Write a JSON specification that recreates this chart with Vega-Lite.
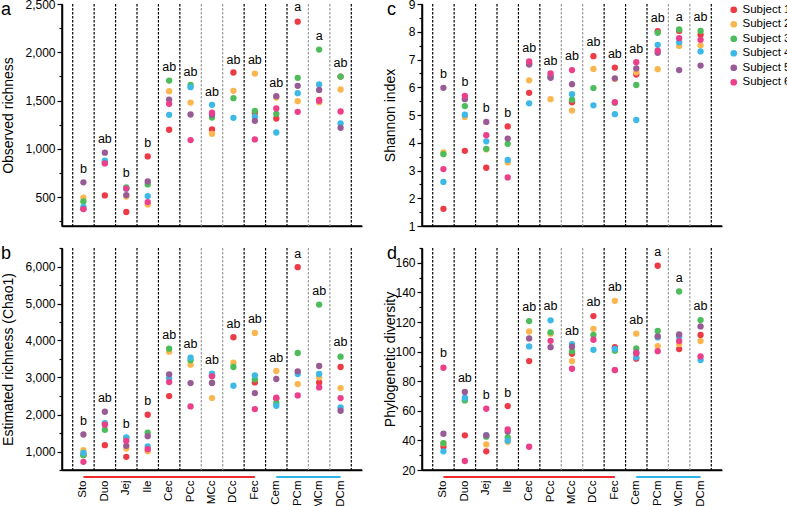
{
"$schema": "https://vega.github.io/schema/vega-lite/v6.json",
"padding": {"left": 0, "top": -3, "right": 0, "bottom": 0},
"datasets": {
"seps": [
{"site":"Sto","kind":"major"},{"site":"Duo","kind":"major"},{"site":"Jej","kind":"major"},{"site":"Ile","kind":"major"},{"site":"Cec","kind":"major"},{"site":"PCc","kind":"major"},{"site":"MCc","kind":"minor"},{"site":"DCc","kind":"minor"},{"site":"Fec","kind":"major"},{"site":"Cem","kind":"major"},{"site":"PCm","kind":"major"},{"site":"MCm","kind":"minor"},{"site":"DCm","kind":"minor"},{"site":"DCm","kind":"end"}
],
"groups": [
{"group":"colon","from":"Sto","to":"Fec"},{"group":"mucosa","from":"Cem","to":"DCm"}
],
"letters": [
{"panel":"a","site":"Sto","letter":"b","value":793},{"panel":"a","site":"Duo","letter":"ab","value":1100},{"panel":"a","site":"Jej","letter":"b","value":752},{"panel":"a","site":"Ile","letter":"b","value":1062},{"panel":"a","site":"Cec","letter":"ab","value":1845},{"panel":"a","site":"PCc","letter":"ab","value":1800},{"panel":"a","site":"MCc","letter":"ab","value":1590},{"panel":"a","site":"DCc","letter":"ab","value":1924},{"panel":"a","site":"Fec","letter":"ab","value":1920},{"panel":"a","site":"Cem","letter":"ab","value":1680},{"panel":"a","site":"PCm","letter":"a","value":2465},{"panel":"a","site":"MCm","letter":"a","value":2172},{"panel":"a","site":"DCm","letter":"ab","value":1890},
{"panel":"b","site":"Sto","letter":"b","value":1830},{"panel":"b","site":"Duo","letter":"ab","value":2444},{"panel":"b","site":"Jej","letter":"b","value":1740},{"panel":"b","site":"Ile","letter":"b","value":2354},{"panel":"b","site":"Cec","letter":"ab","value":4150},{"panel":"b","site":"PCc","letter":"ab","value":3906},{"panel":"b","site":"MCc","letter":"ab","value":3464},{"panel":"b","site":"DCc","letter":"ab","value":4448},{"panel":"b","site":"Fec","letter":"ab","value":4583},{"panel":"b","site":"Cem","letter":"ab","value":3527},{"panel":"b","site":"PCm","letter":"a","value":6325},{"panel":"b","site":"MCm","letter":"ab","value":5341},{"panel":"b","site":"DCm","letter":"ab","value":3951},
{"panel":"c","site":"Sto","letter":"b","value":6.47},{"panel":"c","site":"Duo","letter":"b","value":6.19},{"panel":"c","site":"Jej","letter":"b","value":5.25},{"panel":"c","site":"Ile","letter":"b","value":5.08},{"panel":"c","site":"Cec","letter":"ab","value":7.41},{"panel":"c","site":"PCc","letter":"ab","value":6.96},{"panel":"c","site":"MCc","letter":"ab","value":7.11},{"panel":"c","site":"DCc","letter":"ab","value":7.62},{"panel":"c","site":"Fec","letter":"ab","value":7.2},{"panel":"c","site":"Cem","letter":"ab","value":7.38},{"panel":"c","site":"PCm","letter":"ab","value":8.5},{"panel":"c","site":"MCm","letter":"a","value":8.52},{"panel":"c","site":"DCm","letter":"ab","value":8.52},
{"panel":"d","site":"Sto","letter":"b","value":98.8},{"panel":"d","site":"Duo","letter":"ab","value":81.9},{"panel":"d","site":"Jej","letter":"b","value":70.6},{"panel":"d","site":"Ile","letter":"b","value":72.2},{"panel":"d","site":"Cec","letter":"ab","value":130.3},{"panel":"d","site":"PCc","letter":"ab","value":130.7},{"panel":"d","site":"MCc","letter":"ab","value":114.1},{"panel":"d","site":"DCc","letter":"ab","value":133.2},{"panel":"d","site":"Fec","letter":"ab","value":143.8},{"panel":"d","site":"Cem","letter":"ab","value":121.3},{"panel":"d","site":"PCm","letter":"a","value":167},{"panel":"d","site":"MCm","letter":"a","value":149.4},{"panel":"d","site":"DCm","letter":"ab","value":130.7}
],
"pts": [
{"panel":"a","site":"Sto","subject":"Subject 1","value":380},{"panel":"a","site":"Sto","subject":"Subject 2","value":493},{"panel":"a","site":"Sto","subject":"Subject 3","value":455},{"panel":"a","site":"Sto","subject":"Subject 4","value":397},{"panel":"a","site":"Sto","subject":"Subject 5","value":652},{"panel":"a","site":"Sto","subject":"Subject 6","value":375},
{"panel":"a","site":"Duo","subject":"Subject 1","value":517},{"panel":"a","site":"Duo","subject":"Subject 2","value":860},{"panel":"a","site":"Duo","subject":"Subject 3","value":860},{"panel":"a","site":"Duo","subject":"Subject 4","value":877},{"panel":"a","site":"Duo","subject":"Subject 5","value":960},{"panel":"a","site":"Duo","subject":"Subject 6","value":848},
{"panel":"a","site":"Jej","subject":"Subject 1","value":345},{"panel":"a","site":"Jej","subject":"Subject 2","value":505},{"panel":"a","site":"Jej","subject":"Subject 3","value":600},{"panel":"a","site":"Jej","subject":"Subject 4","value":585},{"panel":"a","site":"Jej","subject":"Subject 5","value":520},{"panel":"a","site":"Jej","subject":"Subject 6","value":588},
{"panel":"a","site":"Ile","subject":"Subject 1","value":921},{"panel":"a","site":"Ile","subject":"Subject 2","value":424},{"panel":"a","site":"Ile","subject":"Subject 3","value":631},{"panel":"a","site":"Ile","subject":"Subject 4","value":510},{"panel":"a","site":"Ile","subject":"Subject 5","value":662},{"panel":"a","site":"Ile","subject":"Subject 6","value":448},
{"panel":"a","site":"Cec","subject":"Subject 1","value":1197},{"panel":"a","site":"Cec","subject":"Subject 2","value":1597},{"panel":"a","site":"Cec","subject":"Subject 3","value":1707},{"panel":"a","site":"Cec","subject":"Subject 4","value":1352},{"panel":"a","site":"Cec","subject":"Subject 5","value":1510},{"panel":"a","site":"Cec","subject":"Subject 6","value":1466},
{"panel":"a","site":"PCc","subject":"Subject 2","value":1479},{"panel":"a","site":"PCc","subject":"Subject 3","value":1662},{"panel":"a","site":"PCc","subject":"Subject 4","value":1638},{"panel":"a","site":"PCc","subject":"Subject 5","value":1355},{"panel":"a","site":"PCc","subject":"Subject 6","value":1090},
{"panel":"a","site":"MCc","subject":"Subject 1","value":1200},{"panel":"a","site":"MCc","subject":"Subject 2","value":1155},{"panel":"a","site":"MCc","subject":"Subject 3","value":1324},{"panel":"a","site":"MCc","subject":"Subject 4","value":1455},{"panel":"a","site":"MCc","subject":"Subject 5","value":1352},{"panel":"a","site":"MCc","subject":"Subject 6","value":1373},
{"panel":"a","site":"DCc","subject":"Subject 1","value":1790},{"panel":"a","site":"DCc","subject":"Subject 2","value":1600},{"panel":"a","site":"DCc","subject":"Subject 3","value":1524},{"panel":"a","site":"DCc","subject":"Subject 4","value":1321},
{"panel":"a","site":"Fec","subject":"Subject 1","value":1373},{"panel":"a","site":"Fec","subject":"Subject 2","value":1779},{"panel":"a","site":"Fec","subject":"Subject 3","value":1393},{"panel":"a","site":"Fec","subject":"Subject 4","value":1331},{"panel":"a","site":"Fec","subject":"Subject 5","value":1290},{"panel":"a","site":"Fec","subject":"Subject 6","value":1097},
{"panel":"a","site":"Cem","subject":"Subject 1","value":1314},{"panel":"a","site":"Cem","subject":"Subject 2","value":1531},{"panel":"a","site":"Cem","subject":"Subject 3","value":1362},{"panel":"a","site":"Cem","subject":"Subject 4","value":1169},{"panel":"a","site":"Cem","subject":"Subject 5","value":1545},{"panel":"a","site":"Cem","subject":"Subject 6","value":1417},
{"panel":"a","site":"PCm","subject":"Subject 1","value":2317},{"panel":"a","site":"PCm","subject":"Subject 2","value":1493},{"panel":"a","site":"PCm","subject":"Subject 3","value":1735},{"panel":"a","site":"PCm","subject":"Subject 4","value":1576},{"panel":"a","site":"PCm","subject":"Subject 5","value":1652},{"panel":"a","site":"PCm","subject":"Subject 6","value":1383},
{"panel":"a","site":"MCm","subject":"Subject 1","value":1507},{"panel":"a","site":"MCm","subject":"Subject 2","value":1483},{"panel":"a","site":"MCm","subject":"Subject 3","value":2028},{"panel":"a","site":"MCm","subject":"Subject 4","value":1666},{"panel":"a","site":"MCm","subject":"Subject 5","value":1610},{"panel":"a","site":"MCm","subject":"Subject 6","value":1497},
{"panel":"a","site":"DCm","subject":"Subject 1","value":1748},{"panel":"a","site":"DCm","subject":"Subject 2","value":1614},{"panel":"a","site":"DCm","subject":"Subject 3","value":1748},{"panel":"a","site":"DCm","subject":"Subject 4","value":1262},{"panel":"a","site":"DCm","subject":"Subject 5","value":1217},{"panel":"a","site":"DCm","subject":"Subject 6","value":1386},
{"panel":"b","site":"Sto","subject":"Subject 1","value":910},{"panel":"b","site":"Sto","subject":"Subject 2","value":1036},{"panel":"b","site":"Sto","subject":"Subject 3","value":901},{"panel":"b","site":"Sto","subject":"Subject 4","value":964},{"panel":"b","site":"Sto","subject":"Subject 5","value":1460},{"panel":"b","site":"Sto","subject":"Subject 6","value":720},
{"panel":"b","site":"Duo","subject":"Subject 1","value":1172},{"panel":"b","site":"Duo","subject":"Subject 2","value":1760},{"panel":"b","site":"Duo","subject":"Subject 3","value":1587},{"panel":"b","site":"Duo","subject":"Subject 4","value":1767},{"panel":"b","site":"Duo","subject":"Subject 5","value":2074},{"panel":"b","site":"Duo","subject":"Subject 6","value":1722},
{"panel":"b","site":"Jej","subject":"Subject 1","value":856},{"panel":"b","site":"Jej","subject":"Subject 2","value":1081},{"panel":"b","site":"Jej","subject":"Subject 3","value":1370},{"panel":"b","site":"Jej","subject":"Subject 4","value":1379},{"panel":"b","site":"Jej","subject":"Subject 5","value":1154},{"panel":"b","site":"Jej","subject":"Subject 6","value":1289},
{"panel":"b","site":"Ile","subject":"Subject 1","value":1993},{"panel":"b","site":"Ile","subject":"Subject 2","value":1009},{"panel":"b","site":"Ile","subject":"Subject 3","value":1506},{"panel":"b","site":"Ile","subject":"Subject 4","value":1135},{"panel":"b","site":"Ile","subject":"Subject 5","value":1415},{"panel":"b","site":"Ile","subject":"Subject 6","value":1063},
{"panel":"b","site":"Cec","subject":"Subject 1","value":2498},{"panel":"b","site":"Cec","subject":"Subject 2","value":3699},{"panel":"b","site":"Cec","subject":"Subject 3","value":3780},{"panel":"b","site":"Cec","subject":"Subject 4","value":2977},{"panel":"b","site":"Cec","subject":"Subject 5","value":3085},{"panel":"b","site":"Cec","subject":"Subject 6","value":2877},
{"panel":"b","site":"PCc","subject":"Subject 2","value":3346},{"panel":"b","site":"PCc","subject":"Subject 3","value":3464},{"panel":"b","site":"PCc","subject":"Subject 4","value":3536},{"panel":"b","site":"PCc","subject":"Subject 5","value":2850},{"panel":"b","site":"PCc","subject":"Subject 6","value":2218},
{"panel":"b","site":"MCc","subject":"Subject 1","value":3060},{"panel":"b","site":"MCc","subject":"Subject 2","value":2444},{"panel":"b","site":"MCc","subject":"Subject 3","value":2860},{"panel":"b","site":"MCc","subject":"Subject 4","value":3103},{"panel":"b","site":"MCc","subject":"Subject 5","value":2850},{"panel":"b","site":"MCc","subject":"Subject 6","value":3031},
{"panel":"b","site":"DCc","subject":"Subject 1","value":4087},{"panel":"b","site":"DCc","subject":"Subject 2","value":3401},{"panel":"b","site":"DCc","subject":"Subject 3","value":3284},{"panel":"b","site":"DCc","subject":"Subject 4","value":2778},
{"panel":"b","site":"Fec","subject":"Subject 1","value":2868},{"panel":"b","site":"Fec","subject":"Subject 2","value":4204},{"panel":"b","site":"Fec","subject":"Subject 3","value":2950},{"panel":"b","site":"Fec","subject":"Subject 4","value":3058},{"panel":"b","site":"Fec","subject":"Subject 5","value":2580},{"panel":"b","site":"Fec","subject":"Subject 6","value":2146},
{"panel":"b","site":"Cem","subject":"Subject 1","value":2435},{"panel":"b","site":"Cem","subject":"Subject 2","value":3175},{"panel":"b","site":"Cem","subject":"Subject 3","value":2309},{"panel":"b","site":"Cem","subject":"Subject 4","value":2237},{"panel":"b","site":"Cem","subject":"Subject 5","value":2959},{"panel":"b","site":"Cem","subject":"Subject 6","value":2453},
{"panel":"b","site":"PCm","subject":"Subject 1","value":5982},{"panel":"b","site":"PCm","subject":"Subject 2","value":2823},{"panel":"b","site":"PCm","subject":"Subject 3","value":3663},{"panel":"b","site":"PCm","subject":"Subject 4","value":3094},{"panel":"b","site":"PCm","subject":"Subject 5","value":3166},{"panel":"b","site":"PCm","subject":"Subject 6","value":2516},
{"panel":"b","site":"MCm","subject":"Subject 1","value":2868},{"panel":"b","site":"MCm","subject":"Subject 2","value":3004},{"panel":"b","site":"MCm","subject":"Subject 3","value":4971},{"panel":"b","site":"MCm","subject":"Subject 4","value":3094},{"panel":"b","site":"MCm","subject":"Subject 5","value":3311},{"panel":"b","site":"MCm","subject":"Subject 6","value":2733},
{"panel":"b","site":"DCm","subject":"Subject 1","value":3284},{"panel":"b","site":"DCm","subject":"Subject 2","value":2715},{"panel":"b","site":"DCm","subject":"Subject 3","value":3563},{"panel":"b","site":"DCm","subject":"Subject 4","value":2191},{"panel":"b","site":"DCm","subject":"Subject 5","value":2101},{"panel":"b","site":"DCm","subject":"Subject 6","value":2444},
{"panel":"c","site":"Sto","subject":"Subject 1","value":1.62},{"panel":"c","site":"Sto","subject":"Subject 2","value":3.65},{"panel":"c","site":"Sto","subject":"Subject 3","value":3.59},{"panel":"c","site":"Sto","subject":"Subject 4","value":2.59},{"panel":"c","site":"Sto","subject":"Subject 5","value":5.98},{"panel":"c","site":"Sto","subject":"Subject 6","value":3.05},
{"panel":"c","site":"Duo","subject":"Subject 1","value":3.71},{"panel":"c","site":"Duo","subject":"Subject 2","value":4.93},{"panel":"c","site":"Duo","subject":"Subject 3","value":5.32},{"panel":"c","site":"Duo","subject":"Subject 4","value":5.01},{"panel":"c","site":"Duo","subject":"Subject 5","value":5.57},{"panel":"c","site":"Duo","subject":"Subject 6","value":5.69},
{"panel":"c","site":"Jej","subject":"Subject 1","value":3.1},{"panel":"c","site":"Jej","subject":"Subject 2","value":3.76},{"panel":"c","site":"Jej","subject":"Subject 3","value":3.78},{"panel":"c","site":"Jej","subject":"Subject 4","value":4.05},{"panel":"c","site":"Jej","subject":"Subject 5","value":4.75},{"panel":"c","site":"Jej","subject":"Subject 6","value":4.27},
{"panel":"c","site":"Ile","subject":"Subject 1","value":4.59},{"panel":"c","site":"Ile","subject":"Subject 2","value":3.29},{"panel":"c","site":"Ile","subject":"Subject 3","value":3.96},{"panel":"c","site":"Ile","subject":"Subject 4","value":3.38},{"panel":"c","site":"Ile","subject":"Subject 5","value":4.15},{"panel":"c","site":"Ile","subject":"Subject 6","value":2.75},
{"panel":"c","site":"Cec","subject":"Subject 1","value":5.8},{"panel":"c","site":"Cec","subject":"Subject 2","value":6.25},{"panel":"c","site":"Cec","subject":"Subject 3","value":6.86},{"panel":"c","site":"Cec","subject":"Subject 4","value":5.42},{"panel":"c","site":"Cec","subject":"Subject 5","value":6.82},{"panel":"c","site":"Cec","subject":"Subject 6","value":6.93},
{"panel":"c","site":"PCc","subject":"Subject 2","value":5.57},{"panel":"c","site":"PCc","subject":"Subject 3","value":6.4},{"panel":"c","site":"PCc","subject":"Subject 4","value":6.37},{"panel":"c","site":"PCc","subject":"Subject 5","value":6.34},{"panel":"c","site":"PCc","subject":"Subject 6","value":6.5},
{"panel":"c","site":"MCc","subject":"Subject 1","value":5.46},{"panel":"c","site":"MCc","subject":"Subject 2","value":5.16},{"panel":"c","site":"MCc","subject":"Subject 3","value":5.55},{"panel":"c","site":"MCc","subject":"Subject 4","value":5.75},{"panel":"c","site":"MCc","subject":"Subject 5","value":6.11},{"panel":"c","site":"MCc","subject":"Subject 6","value":6.62},
{"panel":"c","site":"DCc","subject":"Subject 1","value":7.12},{"panel":"c","site":"DCc","subject":"Subject 2","value":6.66},{"panel":"c","site":"DCc","subject":"Subject 3","value":5.97},{"panel":"c","site":"DCc","subject":"Subject 4","value":5.35},
{"panel":"c","site":"Fec","subject":"Subject 1","value":6.71},{"panel":"c","site":"Fec","subject":"Subject 2","value":6.3},{"panel":"c","site":"Fec","subject":"Subject 3","value":5.44},{"panel":"c","site":"Fec","subject":"Subject 4","value":5.03},{"panel":"c","site":"Fec","subject":"Subject 5","value":6.32},{"panel":"c","site":"Fec","subject":"Subject 6","value":5.46},
{"panel":"c","site":"Cem","subject":"Subject 1","value":6.46},{"panel":"c","site":"Cem","subject":"Subject 2","value":6.54},{"panel":"c","site":"Cem","subject":"Subject 3","value":6.08},{"panel":"c","site":"Cem","subject":"Subject 4","value":4.82},{"panel":"c","site":"Cem","subject":"Subject 5","value":6.68},{"panel":"c","site":"Cem","subject":"Subject 6","value":6.9},
{"panel":"c","site":"PCm","subject":"Subject 1","value":8.02},{"panel":"c","site":"PCm","subject":"Subject 2","value":6.65},{"panel":"c","site":"PCm","subject":"Subject 3","value":7.96},{"panel":"c","site":"PCm","subject":"Subject 4","value":7.53},{"panel":"c","site":"PCm","subject":"Subject 5","value":7.24},{"panel":"c","site":"PCm","subject":"Subject 6","value":7.32},
{"panel":"c","site":"MCm","subject":"Subject 1","value":8.03},{"panel":"c","site":"MCm","subject":"Subject 2","value":7.49},{"panel":"c","site":"MCm","subject":"Subject 3","value":8.08},{"panel":"c","site":"MCm","subject":"Subject 4","value":7.62},{"panel":"c","site":"MCm","subject":"Subject 5","value":6.62},{"panel":"c","site":"MCm","subject":"Subject 6","value":7.77},
{"panel":"c","site":"DCm","subject":"Subject 1","value":7.89},{"panel":"c","site":"DCm","subject":"Subject 2","value":7.51},{"panel":"c","site":"DCm","subject":"Subject 3","value":8.03},{"panel":"c","site":"DCm","subject":"Subject 4","value":7.29},{"panel":"c","site":"DCm","subject":"Subject 5","value":6.78},{"panel":"c","site":"DCm","subject":"Subject 6","value":7.71},
{"panel":"d","site":"Sto","subject":"Subject 1","value":35.7},{"panel":"d","site":"Sto","subject":"Subject 2","value":38},{"panel":"d","site":"Sto","subject":"Subject 3","value":38.2},{"panel":"d","site":"Sto","subject":"Subject 4","value":32.6},{"panel":"d","site":"Sto","subject":"Subject 5","value":44.5},{"panel":"d","site":"Sto","subject":"Subject 6","value":89.1},
{"panel":"d","site":"Duo","subject":"Subject 1","value":43.4},{"panel":"d","site":"Duo","subject":"Subject 2","value":68},{"panel":"d","site":"Duo","subject":"Subject 3","value":67},{"panel":"d","site":"Duo","subject":"Subject 4","value":68.8},{"panel":"d","site":"Duo","subject":"Subject 5","value":72.7},{"panel":"d","site":"Duo","subject":"Subject 6","value":26.1},
{"panel":"d","site":"Jej","subject":"Subject 1","value":32.6},{"panel":"d","site":"Jej","subject":"Subject 2","value":37.3},{"panel":"d","site":"Jej","subject":"Subject 3","value":42.5},{"panel":"d","site":"Jej","subject":"Subject 4","value":43.6},{"panel":"d","site":"Jej","subject":"Subject 5","value":43.4},{"panel":"d","site":"Jej","subject":"Subject 6","value":61.4},
{"panel":"d","site":"Ile","subject":"Subject 1","value":63.2},{"panel":"d","site":"Ile","subject":"Subject 2","value":39.1},{"panel":"d","site":"Ile","subject":"Subject 3","value":42},{"panel":"d","site":"Ile","subject":"Subject 4","value":39.8},{"panel":"d","site":"Ile","subject":"Subject 5","value":45.9},{"panel":"d","site":"Ile","subject":"Subject 6","value":47.4},
{"panel":"d","site":"Cec","subject":"Subject 1","value":93.6},{"panel":"d","site":"Cec","subject":"Subject 2","value":113.6},{"panel":"d","site":"Cec","subject":"Subject 3","value":120.6},{"panel":"d","site":"Cec","subject":"Subject 4","value":103.5},{"panel":"d","site":"Cec","subject":"Subject 5","value":108.9},{"panel":"d","site":"Cec","subject":"Subject 6","value":35.7},
{"panel":"d","site":"PCc","subject":"Subject 2","value":112.1},{"panel":"d","site":"PCc","subject":"Subject 3","value":113},{"panel":"d","site":"PCc","subject":"Subject 4","value":121.1},{"panel":"d","site":"PCc","subject":"Subject 5","value":103},{"panel":"d","site":"PCc","subject":"Subject 6","value":107.3},
{"panel":"d","site":"MCc","subject":"Subject 1","value":98.5},{"panel":"d","site":"MCc","subject":"Subject 2","value":93.6},{"panel":"d","site":"MCc","subject":"Subject 3","value":100.3},{"panel":"d","site":"MCc","subject":"Subject 4","value":105.1},{"panel":"d","site":"MCc","subject":"Subject 5","value":103.3},{"panel":"d","site":"MCc","subject":"Subject 6","value":88.4},
{"panel":"d","site":"DCc","subject":"Subject 1","value":124},{"panel":"d","site":"DCc","subject":"Subject 2","value":115.4},{"panel":"d","site":"DCc","subject":"Subject 3","value":111.2},{"panel":"d","site":"DCc","subject":"Subject 4","value":101.2},{"panel":"d","site":"DCc","subject":"Subject 6","value":108},
{"panel":"d","site":"Fec","subject":"Subject 1","value":103},{"panel":"d","site":"Fec","subject":"Subject 2","value":134.3},{"panel":"d","site":"Fec","subject":"Subject 3","value":100.6},{"panel":"d","site":"Fec","subject":"Subject 4","value":101.9},{"panel":"d","site":"Fec","subject":"Subject 5","value":87.5},{"panel":"d","site":"Fec","subject":"Subject 6","value":87.5},
{"panel":"d","site":"Cem","subject":"Subject 1","value":95.2},{"panel":"d","site":"Cem","subject":"Subject 2","value":112.1},{"panel":"d","site":"Cem","subject":"Subject 3","value":102.1},{"panel":"d","site":"Cem","subject":"Subject 4","value":96.1},{"panel":"d","site":"Cem","subject":"Subject 5","value":99.4},{"panel":"d","site":"Cem","subject":"Subject 6","value":98.8},
{"panel":"d","site":"PCm","subject":"Subject 1","value":158},{"panel":"d","site":"PCm","subject":"Subject 2","value":103.7},{"panel":"d","site":"PCm","subject":"Subject 3","value":113.9},{"panel":"d","site":"PCm","subject":"Subject 4","value":109.6},{"panel":"d","site":"PCm","subject":"Subject 5","value":110.3},{"panel":"d","site":"PCm","subject":"Subject 6","value":100.3},
{"panel":"d","site":"MCm","subject":"Subject 1","value":101.7},{"panel":"d","site":"MCm","subject":"Subject 2","value":105.1},{"panel":"d","site":"MCm","subject":"Subject 3","value":140.6},{"panel":"d","site":"MCm","subject":"Subject 4","value":110},{"panel":"d","site":"MCm","subject":"Subject 5","value":111.6},{"panel":"d","site":"MCm","subject":"Subject 6","value":107.1},
{"panel":"d","site":"DCm","subject":"Subject 1","value":111.2},{"panel":"d","site":"DCm","subject":"Subject 2","value":107.1},{"panel":"d","site":"DCm","subject":"Subject 3","value":121.3},{"panel":"d","site":"DCm","subject":"Subject 4","value":94.3},{"panel":"d","site":"DCm","subject":"Subject 5","value":117},{"panel":"d","site":"DCm","subject":"Subject 6","value":96.7}
]
},
"spacing": 8,
"vconcat": [
{"hconcat": [
{"width": 300, "height": 222, "title": {"text": "a"},
 "layer": [
  {"data": {"name": "seps"}, "transform": [{"filter": "datum.kind === 'major'"}], "mark": {"type": "rule", "color": "black", "strokeWidth": 1.2, "strokeDash": [2.5, 1.5]},
   "encoding": {"x": {"field": "site", "type": "nominal", "bandPosition": 0, "scale": {"type": "band", "domain": ["Sto","Duo","Jej","Ile","Cec","PCc","MCc","DCc","Fec","Cem","PCm","MCm","DCm"], "paddingInner": 0, "paddingOuter": 0.5}, "axis": {"labels": false, "ticks": false, "title": null}}}},
  {"data": {"name": "seps"}, "transform": [{"filter": "datum.kind === 'minor'"}], "mark": {"type": "rule", "color": "#9a9a9a", "strokeWidth": 1.2, "strokeDash": [2.5, 1.5]},
   "encoding": {"x": {"field": "site", "type": "nominal", "bandPosition": 0}}},
  {"data": {"name": "seps"}, "transform": [{"filter": "datum.kind === 'end'"}], "mark": {"type": "rule", "color": "black", "strokeWidth": 1.2, "strokeDash": [2.5, 1.5]},
   "encoding": {"x": {"field": "site", "type": "nominal", "bandPosition": 1}}},
  {"data": {"name": "pts"}, "transform": [{"filter": "datum.panel === 'a'"}], "mark": {"type": "point", "filled": true, "size": 40, "opacity": 1},
   "encoding": {"x": {"field": "site", "type": "nominal"},
    "y": {"field": "value", "type": "quantitative", "scale": {"domain": [200, 2500], "nice": false, "zero": false},
     "axis": {"title": "Observed richness", "values": [250,500,750,1000,1250,1500,1750,2000,2250,2500], "tickCount": 100, "labelOverlap": false, "labelExpr": "datum.value % 500 === 0 ? format(datum.value, ',') : ''", "tickSize": {"condition": {"test": "datum.value % 500 === 0", "value": 5}, "value": 3}, "minExtent": 37, "maxExtent": 37, "titlePadding": 10}},
    "color": {"field": "subject", "type": "nominal", "scale": {"domain": ["Subject 1","Subject 2","Subject 3","Subject 4","Subject 5","Subject 6"], "range": ["#EC3B45","#FBB64F","#4DBD5B","#3DB9E8","#995B96","#EC3F8B"]}, "legend": {"title": null}}}},
  {"data": {"name": "letters"}, "transform": [{"filter": "datum.panel === 'a'"}], "mark": {"type": "text", "fontSize": 12.5, "baseline": "middle", "color": "black"},
   "encoding": {"x": {"field": "site", "type": "nominal"}, "y": {"field": "value", "type": "quantitative"}, "text": {"field": "letter"}}}
 ]},
{"width": 300, "height": 222, "title": {"text": "c", "dx": 4},
 "layer": [
  {"data": {"name": "seps"}, "transform": [{"filter": "datum.kind === 'major'"}], "mark": {"type": "rule", "color": "black", "strokeWidth": 1.2, "strokeDash": [2.5, 1.5]},
   "encoding": {"x": {"field": "site", "type": "nominal", "bandPosition": 0, "scale": {"type": "band", "domain": ["Sto","Duo","Jej","Ile","Cec","PCc","MCc","DCc","Fec","Cem","PCm","MCm","DCm"], "paddingInner": 0, "paddingOuter": 0.5}, "axis": {"labels": false, "ticks": false, "title": null}}}},
  {"data": {"name": "seps"}, "transform": [{"filter": "datum.kind === 'minor'"}], "mark": {"type": "rule", "color": "#9a9a9a", "strokeWidth": 1.2, "strokeDash": [2.5, 1.5]},
   "encoding": {"x": {"field": "site", "type": "nominal", "bandPosition": 0}}},
  {"data": {"name": "seps"}, "transform": [{"filter": "datum.kind === 'end'"}], "mark": {"type": "rule", "color": "black", "strokeWidth": 1.2, "strokeDash": [2.5, 1.5]},
   "encoding": {"x": {"field": "site", "type": "nominal", "bandPosition": 1}}},
  {"data": {"name": "pts"}, "transform": [{"filter": "datum.panel === 'c'"}], "mark": {"type": "point", "filled": true, "size": 40, "opacity": 1},
   "encoding": {"x": {"field": "site", "type": "nominal"},
    "y": {"field": "value", "type": "quantitative", "scale": {"domain": [1, 9], "nice": false, "zero": false},
     "axis": {"title": "Shannon index", "values": [1,1.5,2,2.5,3,3.5,4,4.5,5,5.5,6,6.5,7,7.5,8,8.5,9], "tickCount": 100, "labelOverlap": false, "labelExpr": "datum.value % 1 === 0 ? format(datum.value, 'd') : ''", "tickSize": {"condition": {"test": "datum.value % 1 === 0", "value": 5}, "value": 3}, "minExtent": 22, "maxExtent": 22, "titlePadding": 3}},
    "color": {"field": "subject", "type": "nominal"}}},
  {"data": {"name": "letters"}, "transform": [{"filter": "datum.panel === 'c'"}], "mark": {"type": "text", "fontSize": 12.5, "baseline": "middle", "color": "black"},
   "encoding": {"x": {"field": "site", "type": "nominal"}, "y": {"field": "value", "type": "quantitative"}, "text": {"field": "letter"}}}
 ]}
], "spacing": 19},
{"hconcat": [
{"width": 300, "height": 222, "title": {"text": "b"},
 "layer": [
  {"data": {"name": "seps"}, "transform": [{"filter": "datum.kind === 'major'"}], "mark": {"type": "rule", "color": "black", "strokeWidth": 1.2, "strokeDash": [2.5, 1.5]},
   "encoding": {"x": {"field": "site", "type": "nominal", "bandPosition": 0, "scale": {"type": "band", "domain": ["Sto","Duo","Jej","Ile","Cec","PCc","MCc","DCc","Fec","Cem","PCm","MCm","DCm"], "paddingInner": 0, "paddingOuter": 0.5}, "axis": {"ticks": false, "title": null, "labelAngle": 270, "labelPadding": 10}}}},
  {"data": {"name": "seps"}, "transform": [{"filter": "datum.kind === 'minor'"}], "mark": {"type": "rule", "color": "#9a9a9a", "strokeWidth": 1.2, "strokeDash": [2.5, 1.5]},
   "encoding": {"x": {"field": "site", "type": "nominal", "bandPosition": 0}}},
  {"data": {"name": "seps"}, "transform": [{"filter": "datum.kind === 'end'"}], "mark": {"type": "rule", "color": "black", "strokeWidth": 1.2, "strokeDash": [2.5, 1.5]},
   "encoding": {"x": {"field": "site", "type": "nominal", "bandPosition": 1}}},
  {"data": {"name": "pts"}, "transform": [{"filter": "datum.panel === 'b'"}], "mark": {"type": "point", "filled": true, "size": 40, "opacity": 1},
   "encoding": {"x": {"field": "site", "type": "nominal"},
    "y": {"field": "value", "type": "quantitative", "scale": {"domain": [500, 6500], "nice": false, "zero": false},
     "axis": {"title": "Estimated richness (Chao1)", "values": [500,1000,1500,2000,2500,3000,3500,4000,4500,5000,5500,6000,6500], "tickCount": 100, "labelOverlap": false, "labelExpr": "datum.value % 1000 === 0 ? format(datum.value, ',') : ''", "tickSize": {"condition": {"test": "datum.value % 1000 === 0", "value": 5}, "value": 3}, "minExtent": 37, "maxExtent": 37, "titlePadding": 10}},
    "color": {"field": "subject", "type": "nominal"}}},
  {"data": {"name": "letters"}, "transform": [{"filter": "datum.panel === 'b'"}], "mark": {"type": "text", "fontSize": 12.5, "baseline": "middle", "color": "black"},
   "encoding": {"x": {"field": "site", "type": "nominal"}, "y": {"field": "value", "type": "quantitative"}, "text": {"field": "letter"}}},
  {"data": {"name": "groups"}, "transform": [{"filter": "datum.group === 'colon'"}], "mark": {"type": "rule", "color": "#EE2A2F", "strokeWidth": 2},
   "encoding": {"x": {"field": "from", "type": "nominal"}, "x2": {"field": "to"}, "y": {"datum": 310}}},
  {"data": {"name": "groups"}, "transform": [{"filter": "datum.group === 'mucosa'"}], "mark": {"type": "rule", "color": "#2DB4E6", "strokeWidth": 2},
   "encoding": {"x": {"field": "from", "type": "nominal"}, "x2": {"field": "to"}, "y": {"datum": 310}}}
 ]},
{"width": 300, "height": 222, "title": {"text": "d", "dx": 4},
 "layer": [
  {"data": {"name": "seps"}, "transform": [{"filter": "datum.kind === 'major'"}], "mark": {"type": "rule", "color": "black", "strokeWidth": 1.2, "strokeDash": [2.5, 1.5]},
   "encoding": {"x": {"field": "site", "type": "nominal", "bandPosition": 0, "scale": {"type": "band", "domain": ["Sto","Duo","Jej","Ile","Cec","PCc","MCc","DCc","Fec","Cem","PCm","MCm","DCm"], "paddingInner": 0, "paddingOuter": 0.5}, "axis": {"ticks": false, "title": null, "labelAngle": 270, "labelPadding": 10}}}},
  {"data": {"name": "seps"}, "transform": [{"filter": "datum.kind === 'minor'"}], "mark": {"type": "rule", "color": "#9a9a9a", "strokeWidth": 1.2, "strokeDash": [2.5, 1.5]},
   "encoding": {"x": {"field": "site", "type": "nominal", "bandPosition": 0}}},
  {"data": {"name": "seps"}, "transform": [{"filter": "datum.kind === 'end'"}], "mark": {"type": "rule", "color": "black", "strokeWidth": 1.2, "strokeDash": [2.5, 1.5]},
   "encoding": {"x": {"field": "site", "type": "nominal", "bandPosition": 1}}},
  {"data": {"name": "pts"}, "transform": [{"filter": "datum.panel === 'd'"}], "mark": {"type": "point", "filled": true, "size": 40, "opacity": 1},
   "encoding": {"x": {"field": "site", "type": "nominal"},
    "y": {"field": "value", "type": "quantitative", "scale": {"domain": [20, 170], "nice": false, "zero": false},
     "axis": {"title": "Phylogenetic diversity", "values": [20,30,40,50,60,70,80,90,100,110,120,130,140,150,160,170], "tickCount": 100, "labelOverlap": false, "labelExpr": "datum.value % 20 === 0 ? datum.label : ''", "tickSize": {"condition": {"test": "datum.value % 20 === 0", "value": 5}, "value": 3}, "minExtent": 22, "maxExtent": 22, "titlePadding": 3}},
    "color": {"field": "subject", "type": "nominal"}}},
  {"data": {"name": "letters"}, "transform": [{"filter": "datum.panel === 'd'"}], "mark": {"type": "text", "fontSize": 12.5, "baseline": "middle", "color": "black"},
   "encoding": {"x": {"field": "site", "type": "nominal"}, "y": {"field": "value", "type": "quantitative"}, "text": {"field": "letter"}}},
  {"data": {"name": "groups"}, "transform": [{"filter": "datum.group === 'colon'"}], "mark": {"type": "rule", "color": "#EE2A2F", "strokeWidth": 2},
   "encoding": {"x": {"field": "from", "type": "nominal"}, "x2": {"field": "to"}, "y": {"datum": 15.3}}},
  {"data": {"name": "groups"}, "transform": [{"filter": "datum.group === 'mucosa'"}], "mark": {"type": "rule", "color": "#2DB4E6", "strokeWidth": 2},
   "encoding": {"x": {"field": "from", "type": "nominal"}, "x2": {"field": "to"}, "y": {"datum": 15.3}}}
 ]}
], "spacing": 19}
],
"config": {
 "view": {"stroke": "black", "strokeWidth": 1.5, "strokeDash": [0, 522, 522]},
 "font": "Liberation Sans",
 "axis": {"domain": true, "domainColor": "black", "domainWidth": 1.5, "tickColor": "black", "tickWidth": 1.2, "labelFontSize": 12, "labelColor": "black", "labelPadding": 2, "labelOverlap": false, "titleFontSize": 14, "titleFontWeight": "normal", "titleColor": "black", "grid": false, "labelFont": "Liberation Sans", "titleFont": "Liberation Sans"},
 "axisX": {"labelFontSize": 11.5},
 "legend": {"orient": "right", "offset": 5, "padding": 0, "labelFontSize": 11.5, "labelColor": "black", "labelFont": "Liberation Sans", "symbolSize": 45, "symbolType": "circle", "symbolStrokeWidth": 0, "rowPadding": 1.5, "labelOffset": 3},
 "title": {"fontSize": 18, "fontWeight": "normal", "font": "Liberation Sans", "anchor": "start", "frame": "bounds", "color": "black", "baseline": "top", "offset": -21}
}
}
